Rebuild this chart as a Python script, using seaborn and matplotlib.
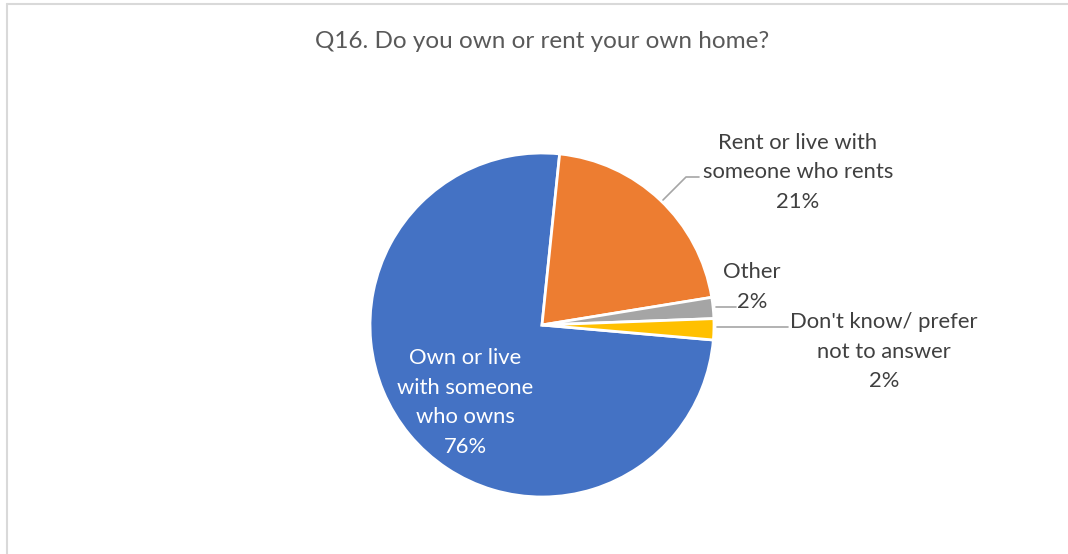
import matplotlib
matplotlib.use("Agg")
import matplotlib.pyplot as plt
import seaborn as sns
from matplotlib.lines import Line2D

# Survey answers (percent of respondents)
categories = ["Own or live\nwith someone\nwho owns",
              "Rent or live with\nsomeone who rents",
              "Other",
              "Don't know/ prefer\nnot to answer"]
values = [76, 21, 2, 2]
colors = ["#4472C4", "#ED7D31", "#A5A5A5", "#FFC000"]
title = "Q16. Do you own or rent your own home?"

sns.set_theme(style="white")
plt.rcParams["font.family"] = ["Lato", "DejaVu Sans"]

W, H = 1068, 554
fig = plt.figure(figsize=(W / 100, H / 100), dpi=100)
fig.patch.set_facecolor("white")
ax = fig.add_axes([0, 0, 1, 1])

# Pie in pixel-like data coordinates (y upward)
cx, cy, r = 542, H - 325, 172
wedges, _ = ax.pie(values, colors=colors, startangle=-5, counterclock=False,
                   center=(cx, cy), radius=r,
                   wedgeprops=dict(edgecolor="white", linewidth=2))
ax.set_xlim(0, W)
ax.set_ylim(0, H)
ax.set_aspect("equal")
ax.axis("off")

lab_fs = 15.8
lab_col = "#404040"
ls = 1.6

def label(i, x, y, color=lab_col):
    ax.text(x, H - y, f"{categories[i]}\n{values[i]}%", ha="center", va="center",
            fontsize=lab_fs, color=color, linespacing=ls)

label(0, 465, 402.5, color="white")
label(1, 798, 172.5)
label(2, 752, 287)
label(3, 884, 351.5)

# Leader lines
lc = "#A6A6A6"
ax.add_line(Line2D([663, 686, 699], [H - 200, H - 177, H - 177], color=lc, lw=1.2))
ax.add_line(Line2D([716, 736], [H - 307, H - 307], color=lc, lw=1.2))
ax.add_line(Line2D([717, 788], [H - 327, H - 327], color=lc, lw=1.2))

ax.text(542, H - 42, title, ha="center", va="center", fontsize=17.5, color="#595959")

# Chart frame
fc = "#D9D9D9"
ax.add_line(Line2D([6.5, W], [H - 3.5, H - 3.5], color=fc, lw=1.5))
ax.add_line(Line2D([6.5, 6.5], [0, H - 3.5], color=fc, lw=1.5))

fig.savefig("out.png", dpi=100, facecolor="white")
